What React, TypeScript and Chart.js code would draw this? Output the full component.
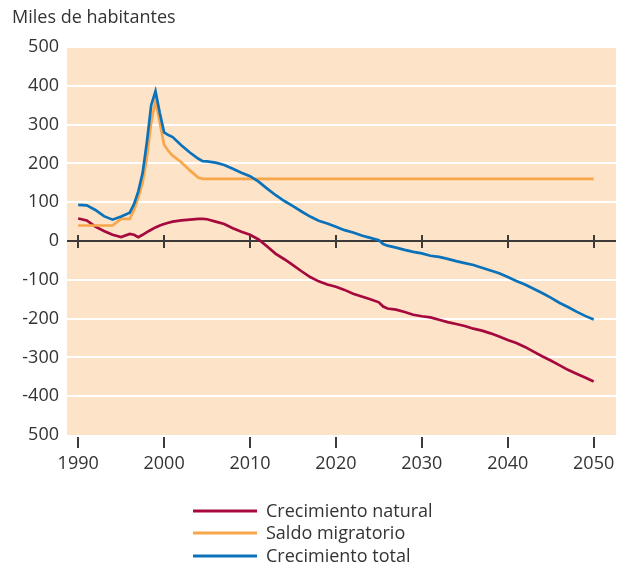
import React, { useEffect, useRef } from 'react';
import { Chart, registerables } from 'chart.js';

Chart.register(...registerables);

const TITLE = 'Miles de habitantes';
const SERIES_LABELS = ['Crecimiento natural', 'Saldo migratorio', 'Crecimiento total'];
const SERIES_COLORS = ['#a6093d', '#f9a64a', '#0a72ba'];

const YEARS = [
  1990, 1991, 1992, 1993, 1994, 1995, 1996, 1996.5, 1997, 1997.5, 1998, 1998.5, 1999, 1999.5,
  2000, 2000.5, 2001, 2002, 2003, 2004, 2004.5, 2005, 2006, 2007, 2008, 2009, 2010, 2011,
  2012, 2013, 2014, 2015, 2016, 2017, 2018, 2019, 2020, 2021, 2022, 2023, 2024, 2025, 2025.5,
  2026, 2027, 2028, 2029, 2030, 2031, 2032, 2033, 2034, 2035, 2036, 2037, 2038, 2039, 2040,
  2041, 2042, 2043, 2044, 2045, 2046, 2047, 2048, 2049, 2050,
];

const NATURAL = [
  58, 53, 37, 26, 16, 10, 18, 16, 10, 16, 23, 29, 35, 40,
  44, 47, 50, 53, 55, 57, 57, 56, 50, 44, 33, 24, 16, 4,
  -14, -33, -47, -62, -78, -93, -104, -112, -118, -126, -136, -143, -150, -158, -169,
  -174, -177, -183, -190, -194, -197, -203, -209, -214, -219, -226, -231, -238, -246, -255,
  -263, -273, -285, -297, -308, -320, -332, -342, -352, -362,
];

const MIGRATORY = [
  40, 40, 40, 40, 40, 57, 57, 80, 112, 150, 215, 305, 362, 305,
  248, 232, 220, 203, 182, 163, 160, 160, 160, 160, 160, 160, 160, 160,
  160, 160, 160, 160, 160, 160, 160, 160, 160, 160, 160, 160, 160, 160, 160,
  160, 160, 160, 160, 160, 160, 160, 160, 160, 160, 160, 160, 160, 160, 160,
  160, 160, 160, 160, 160, 160, 160, 160, 160, 160,
];

const TOTAL = [
  93, 92, 80, 64, 55, 63, 73, 95, 128, 175, 255, 350, 386, 330,
  280, 273, 268, 247, 228, 212, 206, 205, 202, 196, 186, 176, 167, 153,
  135, 118, 103, 90, 76, 63, 52, 45, 37, 28, 22, 14, 8, 2, -8,
  -12, -17, -23, -28, -32, -38, -41, -46, -52, -57, -62, -69, -76, -83, -93,
  -103, -112, -123, -134, -146, -159, -170, -182, -193, -202,
];

const X_TICKS = [1990, 2000, 2010, 2020, 2030, 2040, 2050];
const Y_MIN = -500;
const Y_MAX = 500;
const Y_STEP = 100;

const FONT = "'Open Sans', 'DejaVu Sans', sans-serif";
const TEXT_COLOR = '#333333';
const AXIS_COLOR = '#3d3a38';
const PLOT_BG = '#fde3c8';

const decorPlugin = {
  id: 'decor',
  beforeDraw(chart: any) {
    const { ctx, chartArea } = chart;
    ctx.save();
    ctx.fillStyle = PLOT_BG;
    ctx.fillRect(chartArea.left, chartArea.top, chartArea.right - chartArea.left, chartArea.bottom - chartArea.top);
    ctx.restore();
  },
  beforeDatasetsDraw(chart: any) {
    const { ctx, chartArea, scales } = chart;
    const y0 = scales.y.getPixelForValue(0);
    ctx.save();
    ctx.strokeStyle = AXIS_COLOR;
    ctx.lineWidth = 2;
    ctx.beginPath();
    ctx.moveTo(chartArea.left, y0);
    ctx.lineTo(chartArea.right, y0);
    ctx.stroke();
    X_TICKS.forEach((v) => {
      const x = Math.round(scales.x.getPixelForValue(v));
      ctx.beginPath();
      ctx.moveTo(x, y0 - 6);
      ctx.lineTo(x, y0 + 7);
      ctx.stroke();
      ctx.beginPath();
      ctx.moveTo(x, chartArea.bottom + 2);
      ctx.lineTo(x, chartArea.bottom + 13);
      ctx.stroke();
    });
    ctx.restore();
  },
  afterDraw(chart: any) {
    const { ctx } = chart;
    ctx.save();
    ctx.fillStyle = TEXT_COLOR;
    ctx.font = `18px ${FONT}`;
    ctx.textAlign = 'left';
    ctx.textBaseline = 'middle';
    ctx.fillText(TITLE, 12, 18);
    const rowsY = [511, 533, 556];
    chart.data.datasets.forEach((ds: any, i: number) => {
      const y = rowsY[i];
      ctx.strokeStyle = ds.borderColor;
      ctx.lineWidth = 3;
      ctx.beginPath();
      ctx.moveTo(193, y);
      ctx.lineTo(257, y);
      ctx.stroke();
      ctx.fillStyle = TEXT_COLOR;
      ctx.fillText(ds.label, 266, y + 1);
    });
    ctx.restore();
  },
};

export default function App() {
  const ref = useRef<HTMLCanvasElement | null>(null);
  useEffect(() => {
    if (!ref.current) return;
    const mk = (vals: number[]) => YEARS.map((x, i) => ({ x, y: vals[i] }));
    const chart = new Chart(ref.current, {
      type: 'line',
      data: {
        datasets: [
          { label: SERIES_LABELS[0], data: mk(NATURAL), borderColor: SERIES_COLORS[0], order: 2 },
          { label: SERIES_LABELS[1], data: mk(MIGRATORY), borderColor: SERIES_COLORS[1], order: 1 },
          { label: SERIES_LABELS[2], data: mk(TOTAL), borderColor: SERIES_COLORS[2], order: 0 },
        ],
      },
      options: {
        animation: false,
        responsive: false,
        devicePixelRatio: 1,
        layout: { padding: { top: 47, right: 3, left: 0, bottom: 0 } },
        plugins: { legend: { display: false }, title: { display: false }, tooltip: { enabled: false } },
        elements: {
          point: { radius: 0 },
          line: { borderWidth: 2.7, tension: 0, fill: false },
        },
        scales: {
          x: {
            type: 'linear',
            min: 1988.7,
            max: 2052.6,
            afterBuildTicks: (s: any) => {
              s.ticks = X_TICKS.map((v) => ({ value: v }));
            },
            afterFit: (s: any) => {
              s.height = 129;
              s.paddingLeft = 0;
              s.paddingRight = 0;
            },
            grid: { display: false, drawTicks: false },
            border: { display: false },
            ticks: {
              padding: 18,
              color: TEXT_COLOR,
              font: { family: FONT, size: 18 },
              autoSkip: false,
              maxRotation: 0,
              callback: (v: any) => String(v),
            },
          },
          y: {
            min: Y_MIN,
            max: Y_MAX,
            afterFit: (s: any) => {
              s.width = 67;
            },
            grid: {
              color: (c: any) => (c.tick && c.tick.value === Y_MIN ? 'rgba(0,0,0,0)' : '#ffffff'),
              lineWidth: 2,
              drawTicks: false,
            },
            border: { display: false },
            ticks: {
              stepSize: Y_STEP,
              padding: 8,
              color: TEXT_COLOR,
              font: { family: FONT, size: 18 },
              callback: (v: any) => (v === Y_MIN ? String(-v) : String(v)),
            },
          },
        },
      },
      plugins: [decorPlugin],
    } as any);
    return () => chart.destroy();
  }, []);
  return (
    <div style={{ position: 'absolute', left: 0, top: 0, width: 619, height: 564, background: '#fff' }}>
      <canvas ref={ref} width={619} height={564} style={{ display: 'block' }} />
    </div>
  );
}
